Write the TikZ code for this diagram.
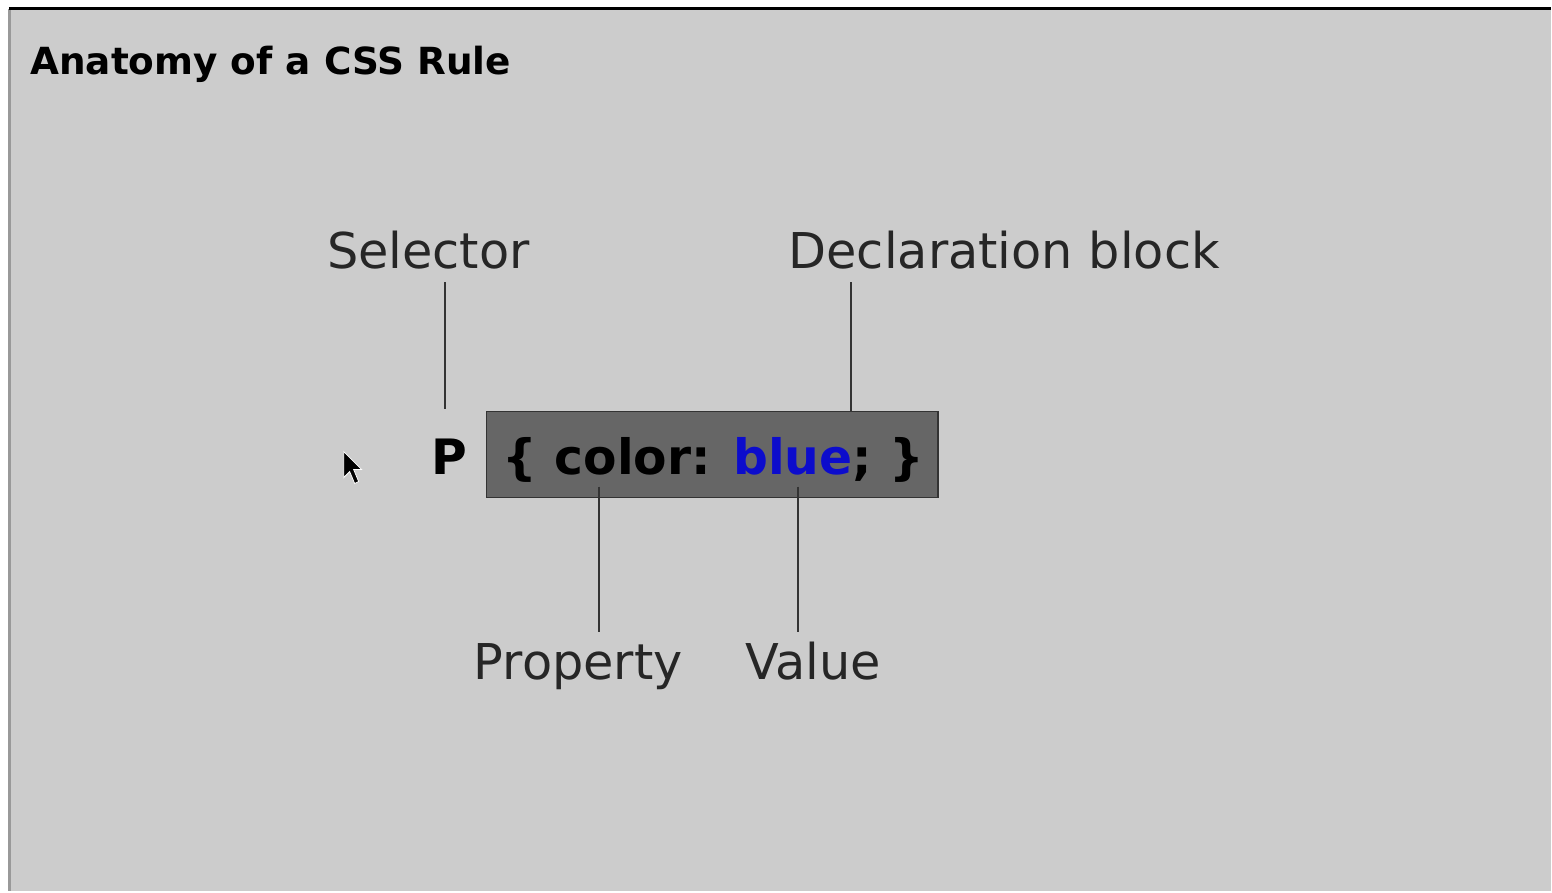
\documentclass[tikz,border=0pt]{standalone}
\usepackage{fontspec}
\setmainfont{DejaVu Sans}
\usetikzlibrary{positioning}
\definecolor{panelgray}{HTML}{CCCCCC}
\definecolor{boxgray}{HTML}{666666}
\definecolor{cssblue}{HTML}{0C0CCC}
\tikzset{
  labeltext/.style={font=\fontsize{24.7}{30}\selectfont, text=black!85, inner sep=0pt, anchor=base west},
  codetext/.style={font=\bfseries\fontsize{24.4}{28}\selectfont, inner sep=0pt, anchor=base west},
  pointerline/.style={draw=black!80, line width=1pt}
}
\begin{document}
\begin{tikzpicture}[x=0.5pt,y=-0.5pt]
  % page and panel
  \fill[white] (0,0) rectangle (1552,892);
  \fill[panelgray] (9,9) rectangle (1552,892);
  \draw[black!40, line width=1.2pt] (9.5,9) -- (9.5,892);
  \draw[black, line width=1.5pt] (9,9) -- (1552,9);

  % title
  \node[font=\bfseries\fontsize{18.7}{23}\selectfont, inner sep=0pt, anchor=base west] (title) at (30,75) {Anatomy of a CSS Rule};

  % the rule
  \node[draw=black!80, line width=0.8pt, fill=boxgray, minimum width=226pt, minimum height=43pt, inner sep=0pt, anchor=north west] (block) at (486,411) {};
  \node[codetext] (sel) at (432,475) {P};
  \node[codetext] (code) at (503,475) {\{ color: \textcolor{cssblue}{blue}; \}};

  % labels
  \node[labeltext] (sellabel) at (327,269) {Selector};
  \node[labeltext] (decllabel) at (789,269) {Declaration block};
  \node[labeltext] (proplabel) at (474,680) {Property};
  \node[labeltext] (vallabel) at (746,680) {Value};

  % pointer lines
  \coordinate (selbot) at (445,409);
  \coordinate (proptop) at (600,487);
  \coordinate (valtop) at (799,487);
  \draw[pointerline] (selbot) -- (selbot |- 0,282);
  \draw[pointerline] (block.north -| 852,0) -- (852,282);
  \draw[pointerline] (proptop) -- (600,633);
  \draw[pointerline] (valtop) -- (799,633);

  % mouse pointer
  \filldraw[fill=black, draw=white, line width=0.4pt] (344,452) -- (344,478) -- (350,472) -- (355,484) -- (359,482) -- (354,470) -- (362,470) -- cycle;
\end{tikzpicture}
\end{document}
